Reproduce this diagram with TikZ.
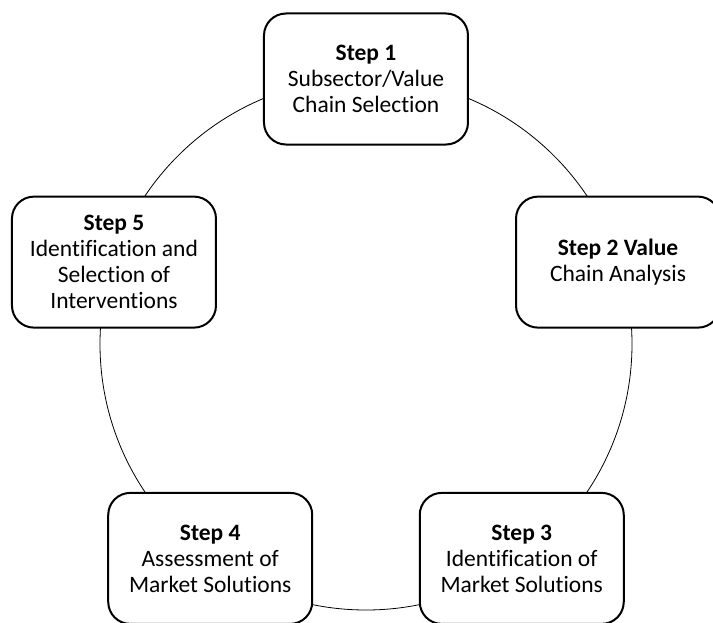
\documentclass[tikz,border=0pt]{standalone}
\usepackage{fontspec}
\setmainfont{Carlito}[Ligatures=NoCommon]
\usepackage{xcolor}
\usetikzlibrary{
    arrows,
    shapes,
    positioning,
    calc
}

\tikzset{
    stepbox/.style={draw, line width=2pt, fill=white, rounded corners=22pt,
        minimum width=204pt, minimum height=131pt, inner sep=0pt,
        align=center, font=\fontsize{23.5}{26}\selectfont}
}

\begin{document}
\begin{tikzpicture}
                \useasboundingbox (-366pt, -278pt) rectangle (347pt, 344pt);
                \draw[line width=0.8pt] (0,0) circle (266pt);
                \node[stepbox] (step1) at (90:265pt) {\textbf{Step 1}\\Subsector/Value\\Chain Selection};
                \node[stepbox] (step2) at (18:265pt) {\textbf{Step 2 Value}\\Chain Analysis};
                \node[stepbox] (step3) at (-54:265pt) {\textbf{Step 3}\\Identification of\\Market Solutions};
                \node[stepbox] (step4) at (-126:265pt) {\textbf{Step 4}\\Assessment of\\Market Solutions};
                \node[stepbox] (step5) at (162:265pt) {\textbf{Step 5}\\Identification and\\Selection of\\Interventions};
            \end{tikzpicture}
\end{document}
